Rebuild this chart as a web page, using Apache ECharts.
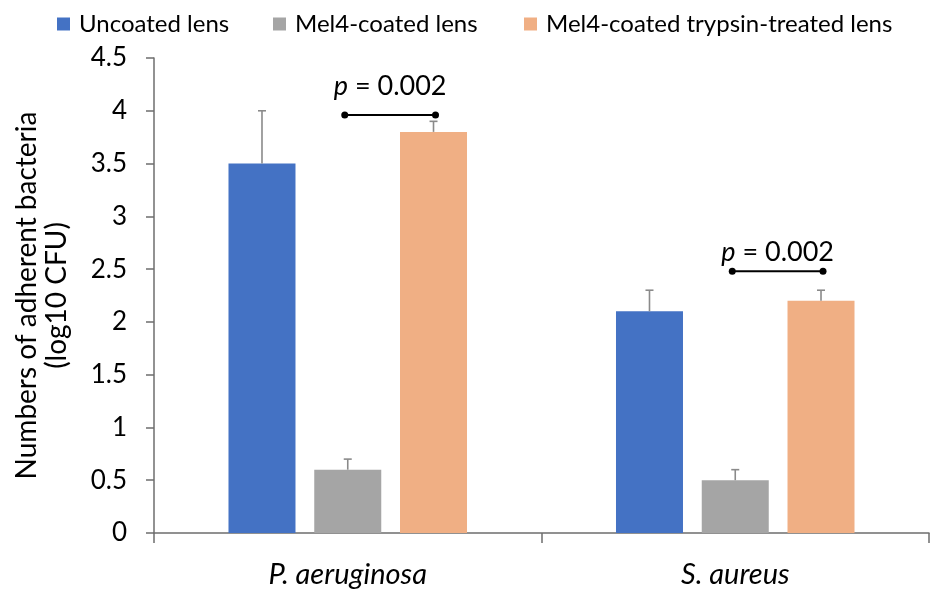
<!DOCTYPE html>
<html>
<head>
<meta charset="utf-8">
<script src="https://cdn.jsdelivr.net/npm/echarts@6/dist/echarts.min.js"></script>
<style>
html,body{margin:0;padding:0;background:#fff;}
#chart{width:932px;height:589px;}
</style>
</head>
<body>
<div id="chart"></div>
<script>
// ---- data ----
const categories = ['P. aeruginosa', 'S. aureus'];
const seriesNames = ['Uncoated lens', 'Mel4-coated lens', 'Mel4-coated trypsin-treated lens'];
const uncoated = [3.5, 2.1];
const uncoatedErr = [0.5, 0.2];
const mel4 = [0.6, 0.5];
const mel4Err = [0.1, 0.1];
const trypsin = [3.8, 2.2];
const trypsinErr = [0.1, 0.1];
// significance brackets: [categoryIndex, bracket value, label value, p text]
const pCategory = [0, 1];
const pBracketY = [3.96, 2.48];
const pLabelY = [4.23, 2.66];
const pText = ['0.002', '0.002'];
const yTicks = {min: 0, max: 4.5, interval: 0.5};

// ---- style ----
const FONT = 'Lato';
const colors = ['#4472C4', '#A5A5A5', '#F0AF84'];
const legendLeft = [52, 268, 519];
const BAR_W = 67;
const GAP_RATIO = 0.28;
const STEP = BAR_W * (1 + GAP_RATIO);
const offsets = [-STEP, 0, STEP];

const chart = echarts.init(document.getElementById('chart'));

function errSeries(vals, errs, idx) {
  return {
    type: 'custom',
    name: seriesNames[idx] + ' err',
    z: 5,
    data: vals.map((v, i) => [i, v, errs[i]]),
    renderItem: function (params, api) {
      const c = api.value(0), v = api.value(1), e = api.value(2);
      const p0 = api.coord([c, v]);
      const p1 = api.coord([c, v + e]);
      const x = p0[0] + offsets[idx];
      const st = {stroke: '#8a8a8a', lineWidth: 1.6};
      return {
        type: 'group',
        children: [
          {type: 'line', shape: {x1: x, y1: p0[1], x2: x, y2: p1[1]}, style: st},
          {type: 'line', shape: {x1: x - 4, y1: p1[1], x2: x + 4, y2: p1[1]}, style: st}
        ]
      };
    }
  };
}

const bracketData = pCategory.map((c, i) => [c, pBracketY[i], pLabelY[i], pText[i]]);

const option = {
  backgroundColor: '#fff',
  textStyle: {fontFamily: FONT, color: '#000'},
  legend: seriesNames.map((n, i) => ({
    data: [n],
    left: legendLeft[i],
    top: 7,
    itemWidth: 13,
    itemHeight: 13,
    icon: 'rect',
    selectedMode: false,
    textStyle: {fontFamily: FONT, fontSize: 24, color: '#000', padding: [0, 0, 0, 4]}
  })),
  grid: {left: 154, right: 3, top: 58, bottom: 54, containLabel: false},
  xAxis: {
    type: 'category',
    data: categories,
    axisLine: {lineStyle: {color: '#6e6e6e', width: 1.5}},
    axisTick: {show: true, length: 10, lineStyle: {color: '#6e6e6e', width: 1.5}},
    axisLabel: {fontFamily: FONT, fontSize: 29, fontStyle: 'italic', color: '#000', margin: 27},
    splitLine: {show: false}
  },
  yAxis: {
    type: 'value',
    min: yTicks.min,
    max: yTicks.max,
    interval: yTicks.interval,
    name: 'Numbers of adherent bacteria\n(log10 CFU)',
    nameLocation: 'middle',
    nameGap: 82,
    nameTextStyle: {fontFamily: FONT, fontSize: 28, color: '#000', lineHeight: 30},
    axisLine: {show: true, lineStyle: {color: '#6e6e6e', width: 1.5}},
    axisTick: {show: true, length: 8, lineStyle: {color: '#6e6e6e', width: 1.5}},
    axisLabel: {fontFamily: FONT, fontSize: 26, color: '#000', margin: 27},
    splitLine: {show: false}
  },
  series: [
    {name: seriesNames[0], type: 'bar', data: uncoated, barWidth: BAR_W, barGap: (GAP_RATIO * 100) + '%', itemStyle: {color: colors[0]}},
    {name: seriesNames[1], type: 'bar', data: mel4, barWidth: BAR_W, barGap: (GAP_RATIO * 100) + '%', itemStyle: {color: colors[1]}},
    {name: seriesNames[2], type: 'bar', data: trypsin, barWidth: BAR_W, barGap: (GAP_RATIO * 100) + '%', itemStyle: {color: colors[2]}},
    errSeries(uncoated, uncoatedErr, 0),
    errSeries(mel4, mel4Err, 1),
    errSeries(trypsin, trypsinErr, 2),
    {
      type: 'custom',
      name: 'p',
      z: 6,
      data: bracketData,
      renderItem: function (params, api) {
        const c = api.value(0), by = api.value(1), ly = api.value(2);
        const txt = bracketData[params.dataIndex][3];
        const pb = api.coord([c, by]);
        const pl = api.coord([c, ly]);
        const x1 = pb[0] + offsets[1] - 3;
        const x2 = pb[0] + offsets[2] + 2;
        const y = pb[1];
        return {
          type: 'group',
          children: [
            {type: 'line', shape: {x1: x1, y1: y, x2: x2, y2: y}, style: {stroke: '#000', lineWidth: 2}},
            {type: 'circle', shape: {cx: x1, cy: y, r: 3.5}, style: {fill: '#000'}},
            {type: 'circle', shape: {cx: x2, cy: y, r: 3.5}, style: {fill: '#000'}},
            {
              type: 'text',
              x: (x1 + x2) / 2, y: pl[1],
              style: {
                text: '{i|p} = ' + txt,
                align: 'center', verticalAlign: 'middle',
                fontFamily: FONT, fontSize: 27, fill: '#000',
                rich: {i: {fontStyle: 'italic', fontFamily: FONT, fontSize: 27, fill: '#000'}}
              }
            }
          ]
        };
      }
    }
  ]
};
chart.setOption(option);
</script>
</body>
</html>
